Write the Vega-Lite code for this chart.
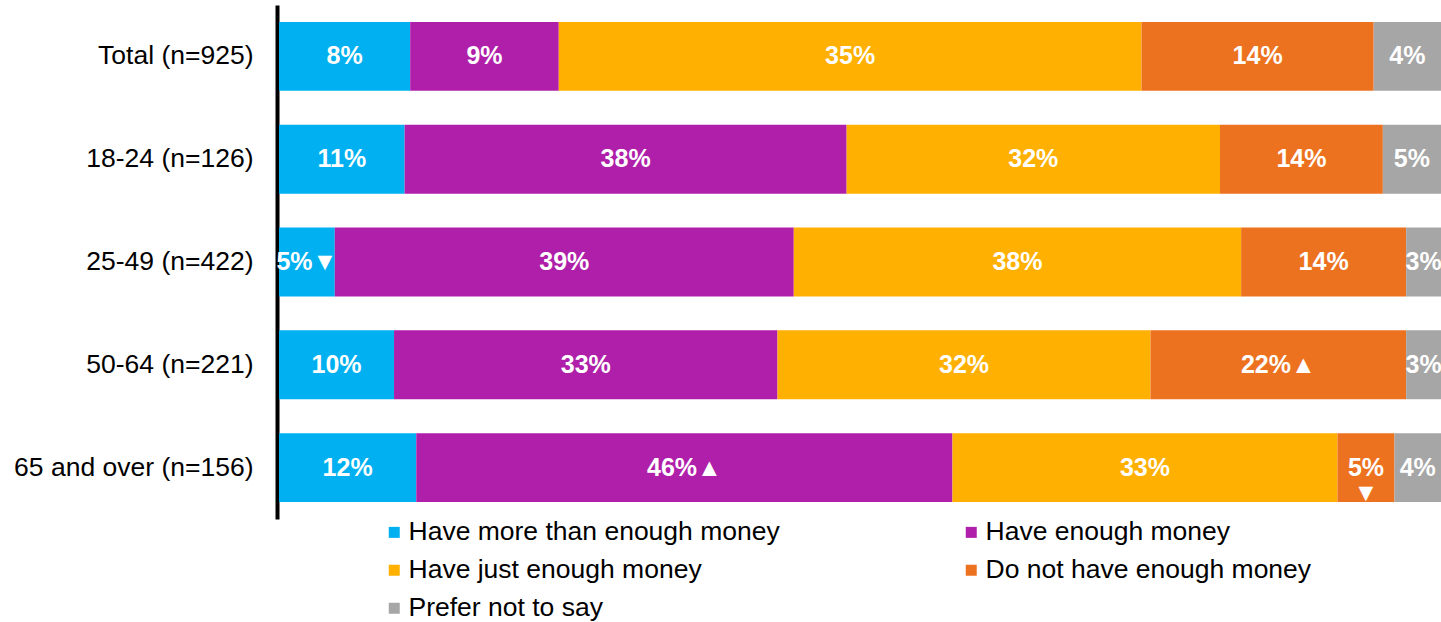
{
  "$schema": "https://vega.github.io/schema/vega-lite/v6.json",
  "autosize": "none",
  "width": 1162,
  "height": 514,
  "padding": {"left": 279, "top": 5, "right": 0, "bottom": 103},
  "background": "white",
  "config": {"view": {"stroke": null}, "font": "Liberation Sans"},
  "data": {
    "values": [
      {"group": "Total (n=925)", "answer": "Have more than enough money", "order": 1, "value": 11.3, "label": "8%"},
      {"group": "Total (n=925)", "answer": "Have enough money", "order": 2, "value": 12.8, "label": "9%"},
      {"group": "Total (n=925)", "answer": "Have just enough money", "order": 3, "value": 50.2, "label": "35%"},
      {"group": "Total (n=925)", "answer": "Do not have enough money", "order": 4, "value": 20.0, "label": "14%"},
      {"group": "Total (n=925)", "answer": "Prefer not to say", "order": 5, "value": 5.8, "label": "4%"},
      {"group": "18-24 (n=126)", "answer": "Have more than enough money", "order": 1, "value": 10.8, "label": "11%"},
      {"group": "18-24 (n=126)", "answer": "Have enough money", "order": 2, "value": 38.0, "label": "38%"},
      {"group": "18-24 (n=126)", "answer": "Have just enough money", "order": 3, "value": 32.1, "label": "32%"},
      {"group": "18-24 (n=126)", "answer": "Do not have enough money", "order": 4, "value": 14.0, "label": "14%"},
      {"group": "18-24 (n=126)", "answer": "Prefer not to say", "order": 5, "value": 5.0, "label": "5%"},
      {"group": "25-49 (n=422)", "answer": "Have more than enough money", "order": 1, "value": 4.8, "label": "5%▼"},
      {"group": "25-49 (n=422)", "answer": "Have enough money", "order": 2, "value": 39.5, "label": "39%"},
      {"group": "25-49 (n=422)", "answer": "Have just enough money", "order": 3, "value": 38.5, "label": "38%"},
      {"group": "25-49 (n=422)", "answer": "Do not have enough money", "order": 4, "value": 14.2, "label": "14%"},
      {"group": "25-49 (n=422)", "answer": "Prefer not to say", "order": 5, "value": 3.0, "label": "3%"},
      {"group": "50-64 (n=221)", "answer": "Have more than enough money", "order": 1, "value": 9.9, "label": "10%"},
      {"group": "50-64 (n=221)", "answer": "Have enough money", "order": 2, "value": 33.0, "label": "33%"},
      {"group": "50-64 (n=221)", "answer": "Have just enough money", "order": 3, "value": 32.1, "label": "32%"},
      {"group": "50-64 (n=221)", "answer": "Do not have enough money", "order": 4, "value": 22.0, "label": "22%▲"},
      {"group": "50-64 (n=221)", "answer": "Prefer not to say", "order": 5, "value": 3.0, "label": "3%"},
      {"group": "65 and over (n=156)", "answer": "Have more than enough money", "order": 1, "value": 11.8, "label": "12%"},
      {"group": "65 and over (n=156)", "answer": "Have enough money", "order": 2, "value": 46.1, "label": "46%▲"},
      {"group": "65 and over (n=156)", "answer": "Have just enough money", "order": 3, "value": 33.1, "label": "33%"},
      {"group": "65 and over (n=156)", "answer": "Do not have enough money", "order": 4, "value": 4.9, "label": "5%\n▼"},
      {"group": "65 and over (n=156)", "answer": "Prefer not to say", "order": 5, "value": 4.0, "label": "4%"}
    ]
  },
  "encoding": {
    "y": {
      "field": "group", "type": "nominal",
      "sort": ["Total (n=925)", "18-24 (n=126)", "25-49 (n=422)", "50-64 (n=221)", "65 and over (n=156)"],
      "scale": {"paddingInner": 0.33, "paddingOuter": 0.165},
      "axis": {
        "title": null, "ticks": false, "domainColor": "black", "domainWidth": 4, "offset": 2,
        "labelFontSize": 26.5, "labelColor": "black", "labelFont": "Liberation Sans", "labelPadding": 24, "labelLimit": 400
      }
    },
    "order": {"field": "order", "type": "quantitative"}
  },
  "layer": [
    {
      "mark": {"type": "bar"},
      "encoding": {
        "x": {"field": "value", "type": "quantitative", "stack": "normalize", "scale": {"domain": [0, 1], "nice": false}, "axis": null},
        "color": {
          "field": "answer", "type": "nominal",
          "scale": {
            "domain": ["Have more than enough money", "Have enough money", "Have just enough money", "Do not have enough money", "Prefer not to say"],
            "range": ["#00B0F0", "#B01FAA", "#FFB000", "#ED7220", "#A6A6A6"]
          },
          "legend": {
            "title": null, "orient": "none", "legendX": 102, "legendY": 514, "columns": 2, "direction": "horizontal",
            "symbolType": "square", "symbolSize": 121, "symbolStrokeWidth": 0, "symbolOffset": 0,
            "labelFontSize": 26.5, "labelFont": "Liberation Sans", "labelColor": "black", "labelLimit": 600, "labelOffset": 1,
            "columnPadding": 178, "rowPadding": 11, "padding": 0
          }
        }
      }
    },
    {
      "mark": {"type": "text", "color": "white", "fontWeight": "bold", "fontSize": 25, "font": "Liberation Sans", "baseline": "middle", "align": "center", "lineBreak": "\n", "lineHeight": 25},
      "encoding": {
        "x": {"field": "value", "type": "quantitative", "stack": "normalize", "bandPosition": 0.5},
        "text": {"field": "label"}
      }
    }
  ]
}
